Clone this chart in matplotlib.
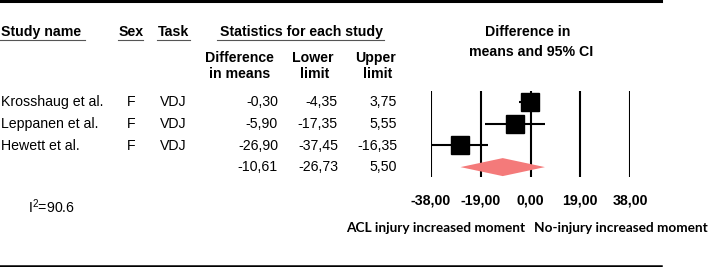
import matplotlib
matplotlib.use("Agg")
import matplotlib.pyplot as plt
from matplotlib.lines import Line2D

# ---------------- data ----------------
studies = ["Krosshaug et al.", "Leppanen et al.", "Hewett et al."]
sex = ["F", "F", "F"]
task = ["VDJ", "VDJ", "VDJ"]
diff = [-0.30, -5.90, -26.90]
lower = [-4.35, -17.35, -37.45]
upper = [3.75, 5.55, -16.35]
summary = [-10.61, -26.73, 5.50]  # diff, lower, upper
ticks = [-38, -19, 0, 19, 38]
i2_text = "I$^{2}$=90.6"
left_label = "ACL injury increased moment"
right_label = "No-injury increased moment"

W, H = 709, 267
fig = plt.figure(figsize=(W / 100, H / 100), dpi=100)
plt.rcParams['font.family'] = ['Liberation Sans', 'DejaVu Sans']
plt.rcParams['mathtext.fontset'] = 'custom'
plt.rcParams['mathtext.rm'] = 'Liberation Sans'


def fx(x):
    return x / W


def fy(y):
    return 1 - y / H


def fmt(v):
    return f"{v:.2f}".replace(".", ",")


FS = 10.2
# top/bottom rules
fig.add_artist(Line2D([0, fx(661)], [fy(1), fy(1)], color="black", lw=2.2, transform=fig.transFigure))
fig.add_artist(Line2D([0, fx(661)], [fy(266), fy(266)], color="black", lw=1.8, transform=fig.transFigure))

# headers
hdr_y = 32
fig.text(fx(1), fy(hdr_y), "Study name", ha="left", va="center", fontsize=FS, fontweight="bold")
fig.text(fx(131), fy(hdr_y), "Sex", ha="center", va="center", fontsize=FS, fontweight="bold")
fig.text(fx(173), fy(hdr_y), "Task", ha="center", va="center", fontsize=FS, fontweight="bold")
fig.text(fx(301), fy(hdr_y), "Statistics for each study", ha="center", va="center", fontsize=FS, fontweight="bold")
for x0, x1 in [(0, 85), (118, 143), (157, 190), (217, 384)]:
    fig.add_artist(Line2D([fx(x0), fx(x1)], [fy(40), fy(40)], color="#555555", lw=0.8, transform=fig.transFigure))

fig.text(fx(528), fy(32), "Difference in", ha="center", va="center", fontsize=FS, fontweight="bold")
fig.text(fx(531), fy(52), "means and 95% CI", ha="center", va="center", fontsize=FS, fontweight="bold")

fig.text(fx(239), fy(58), "Difference", ha="center", va="center", fontsize=FS, fontweight="bold")
fig.text(fx(240), fy(74), "in means", ha="center", va="center", fontsize=FS, fontweight="bold")
fig.text(fx(313), fy(58), "Lower", ha="center", va="center", fontsize=FS, fontweight="bold")
fig.text(fx(315), fy(74), "limit", ha="center", va="center", fontsize=FS, fontweight="bold")
fig.text(fx(376), fy(58), "Upper", ha="center", va="center", fontsize=FS, fontweight="bold")
fig.text(fx(378), fy(74), "limit", ha="center", va="center", fontsize=FS, fontweight="bold")

row_y = [102, 124, 146]
sum_y = 167
for i in range(len(studies)):
    y = fy(row_y[i])
    fig.text(fx(1), y, studies[i], ha="left", va="center", fontsize=FS)
    fig.text(fx(131), y, sex[i], ha="center", va="center", fontsize=FS)
    fig.text(fx(173), y, task[i], ha="center", va="center", fontsize=FS)
    fig.text(fx(278), y, fmt(diff[i]), ha="right", va="center", fontsize=FS)
    fig.text(fx(338), y, fmt(lower[i]), ha="right", va="center", fontsize=FS)
    fig.text(fx(397), y, fmt(upper[i]), ha="right", va="center", fontsize=FS)
for xr, v in zip([278, 338, 397], summary):
    fig.text(fx(xr), fy(sum_y), fmt(v), ha="right", va="center", fontsize=FS)

fig.text(fx(28), fy(207), i2_text, ha="left", va="center", fontsize=FS)

# forest axes
ax = fig.add_axes([fx(431), fy(177), 199 / W, (177 - 91) / H])
step = 21.7
ax.set_xlim(ticks[0], ticks[-1])
ax.set_ylim((177 - 102) / step, (91 - 102) / step)
for t in ticks:
    ax.axvline(t, color="black", lw=1.5, zorder=1)
n = len(studies)
for i in range(n):
    ax.hlines(i, lower[i], upper[i], color="black", lw=1.5, zorder=2)
    ax.plot(diff[i], i, marker="s", ms=12.3, color="black", zorder=3, clip_on=False)
h = 9 / step
m, lo, hi = summary
ax.fill([lo, m, hi, m], [n, n - h, n, n + h], color="#F47A7A", lw=0, zorder=4)
for s in ax.spines.values():
    s.set_visible(False)
ax.set_yticks([])
ax.set_xticks(ticks)
ax.set_xticklabels([fmt(t) for t in ticks], fontsize=FS, fontweight="bold")
ax.tick_params(axis="x", length=0, pad=12)

fig.text(fx(436), fy(228), left_label, ha="center", va="center", fontsize=9.8, fontweight="bold", family=["Lato", "DejaVu Sans"])
fig.text(fx(621), fy(228), right_label, ha="center", va="center", fontsize=9.8, fontweight="bold", family=["Lato", "DejaVu Sans"])

fig.savefig("out.png", dpi=100)
